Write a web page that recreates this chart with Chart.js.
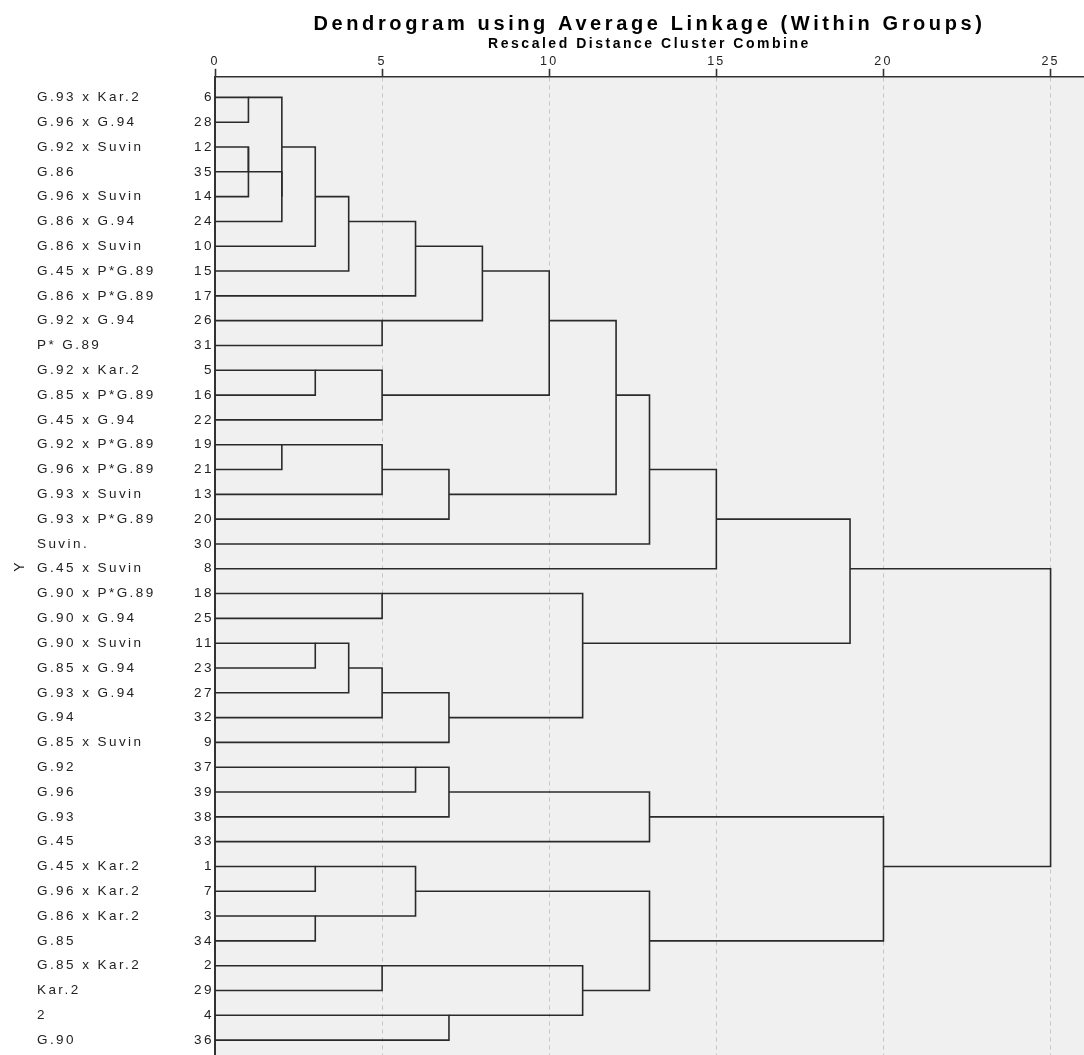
<!DOCTYPE html>
<html>
<head>
<meta charset="utf-8">
<title>Dendrogram</title>
<script src="https://cdn.jsdelivr.net/npm/chart.js@4.4.1/dist/chart.umd.min.js"></script>
<style>
  html, body { margin: 0; padding: 0; background: #fff; }
  #wrap { width: 1084px; height: 1055px; }
</style>
</head>
<body>
<div id="wrap"><canvas id="myChart"></canvas></div>
<script>
const caseIds = [6, 28, 12, 35, 14, 24, 10, 15, 17, 26, 31, 5, 16, 22, 19, 21, 13, 20, 30, 8,
    18, 25, 11, 23, 27, 32, 9, 37, 39, 38, 33, 1, 7, 3, 34, 2, 29, 4, 36];
const caseNames = ['G.93 x Kar.2', 'G.96 x G.94', 'G.92 x Suvin', 'G.86', 'G.96 x Suvin', 'G.86 x G.94',
    'G.86 x Suvin', 'G.45 x P*G.89', 'G.86 x P*G.89', 'G.92 x G.94', 'P* G.89', 'G.92 x Kar.2',
    'G.85 x P*G.89', 'G.45 x G.94', 'G.92 x P*G.89', 'G.96 x P*G.89', 'G.93 x Suvin', 'G.93 x P*G.89',
    'Suvin.', 'G.45 x Suvin', 'G.90 x P*G.89', 'G.90 x G.94', 'G.90 x Suvin', 'G.85 x G.94',
    'G.93 x G.94', 'G.94', 'G.85 x Suvin', 'G.92', 'G.96', 'G.93', 'G.45', 'G.45 x Kar.2',
    'G.96 x Kar.2', 'G.86 x Kar.2', 'G.85', 'G.85 x Kar.2', 'Kar.2', '2', 'G.90'];
// merge k joins mergeLeft[k] and mergeRight[k] (a case id, or 'mN' = earlier merge N) at mergeDistance[k]
const mergeLeft = [6, 12, 'm1', 'm2', 'm0', 'm4', 'm5', 'm6', 26, 'm7', 5, 'm10', 'm9', 19, 'm13', 'm14',
    'm12', 'm16', 'm17', 18, 11, 'm20', 'm21', 'm22', 'm19', 'm18', 37, 'm26', 'm27', 1, 3, 'm29', 2, 4,
    'm32', 'm31', 'm28', 'm25'];
const mergeRight = [28, 35, 14, 24, 'm3', 10, 15, 17, 31, 'm8', 16, 22, 'm11', 21, 13, 20, 'm15', 30, 8,
    25, 23, 27, 32, 9, 'm23', 'm24', 39, 38, 33, 7, 34, 'm30', 29, 36, 'm33', 'm34', 'm35', 'm36'];
const mergeDistance = [1, 1, 1, 2, 2, 3, 4, 6, 5, 8, 3, 5, 10, 2, 5, 7, 12, 13, 15, 5, 3, 4, 5, 7, 11, 19,
    6, 7, 13, 3, 3, 6, 5, 7, 11, 13, 20, 25];
const distanceTicks = [0, 5, 10, 15, 20, 25];

// the reference text is drawn wide, so space the letters in proportion to the font size
['fillText', 'measureText'].forEach((fn) => {
    const orig = CanvasRenderingContext2D.prototype[fn];
    CanvasRenderingContext2D.prototype[fn] = function (...args) {
        const m = /([\d.]+)px/.exec(this.font);
        if (m && 'letterSpacing' in this) {
            this.letterSpacing = (parseFloat(m[1]) * 0.18).toFixed(2) + 'px';
        }
        return orig.apply(this, args);
    };
});

const nodeRow = {};
const nodeDist = {};
caseIds.forEach((id, i) => { nodeRow[id] = i; nodeDist[id] = 0; });
const brackets = mergeDistance.map((d, k) => {
    const a = mergeLeft[k];
    const b = mergeRight[k];
    nodeRow['m' + k] = Math.floor((nodeRow[a] + nodeRow[b]) / 2);
    nodeDist['m' + k] = d;
    return [
        {x: nodeDist[a], y: nodeRow[a]},
        {x: d, y: nodeRow[a]},
        {x: d, y: nodeRow[b]},
        {x: nodeDist[b], y: nodeRow[b]}
    ];
});

const rowTicks = (scale) => { scale.ticks = caseIds.map((_, i) => ({value: i})); };
const rowFit = (width) => (scale) => {
    scale.width = width;
    scale.paddingTop = 0;
    scale.paddingBottom = 0;
};

const plotBackground = {
    id: 'plotBackground',
    beforeDraw(chart) {
        const {ctx, chartArea} = chart;
        ctx.save();
        ctx.fillStyle = '#ffffff';
        ctx.fillRect(0, 0, chart.width, chart.height);
        ctx.fillStyle = '#f0f0f0';
        ctx.fillRect(chartArea.left, chartArea.top, chartArea.right - chartArea.left, chartArea.bottom - chartArea.top);
        ctx.restore();
    }
};

Chart.defaults.font.family = '"Liberation Sans", Arial, sans-serif';
Chart.defaults.color = '#222';

const myChart = new Chart(document.getElementById('myChart'), {
    type: 'line',
    data: {
        datasets: brackets.map((pts) => ({
            data: pts,
            borderColor: '#2a2a2a',
            borderWidth: 1.6,
            pointRadius: 0,
            pointHitRadius: 0,
            fill: false,
            tension: 0,
            xAxisID: 'x',
            yAxisID: 'y'
        }))
    },
    options: {
        responsive: true,
        maintainAspectRatio: false,
        animation: false,
        events: [],
        layout: { padding: 0 },
        plugins: {
            legend: { display: false },
            tooltip: { enabled: false },
            title: {
                display: true,
                text: 'Dendrogram using Average Linkage (Within Groups)',
                fullSize: false,
                color: '#000',
                font: { size: 20, weight: 'bold' },
                padding: { top: 12, bottom: 0 }
            }
        },
        scales: {
            x: {
                type: 'linear',
                position: 'top',
                min: 0,
                max: 26,
                afterBuildTicks: (scale) => { scale.ticks = distanceTicks.map((v) => ({value: v})); },
                afterFit: (scale) => { scale.paddingLeft = 0; scale.paddingRight = 0; },
                ticks: { color: '#222', font: { size: 12.5 }, padding: 0, maxRotation: 0 },
                grid: {
                    color: (c) => (c.tick && c.tick.value === 0 ? 'rgba(0,0,0,0)' : '#c4c4c4'),
                    lineWidth: 1,
                    tickColor: '#333',
                    tickWidth: 1.6,
                    tickLength: 8
                },
                border: { display: true, color: '#333', width: 1.5, dash: [4, 4] },
                title: {
                    display: true,
                    text: 'Rescaled Distance Cluster Combine',
                    color: '#000',
                    font: { size: 14, weight: 'bold' },
                    padding: { top: 0, bottom: 1 }
                }
            },
            y: {
                type: 'linear',
                position: 'left',
                weight: 0,
                reverse: true,
                min: -0.83,
                max: 38.6,
                afterBuildTicks: rowTicks,
                afterFit: rowFit(30),
                ticks: {
                    autoSkip: false,
                    padding: 1,
                    crossAlign: 'near',
                    font: { size: 13.5 },
                    callback: (v) => caseIds[v]
                },
                grid: { display: false, drawTicks: false },
                border: { display: true, color: '#333', width: 2 }
            },
            yNames: {
                type: 'linear',
                position: 'left',
                weight: 1,
                reverse: true,
                min: -0.83,
                max: 38.6,
                afterBuildTicks: rowTicks,
                afterFit: rowFit(148),
                ticks: {
                    autoSkip: false,
                    crossAlign: 'far',
                    font: { size: 13.5 },
                    callback: (v) => caseNames[v]
                },
                grid: { display: false, drawTicks: false },
                border: { display: false }
            },
            yTitle: {
                type: 'linear',
                position: 'left',
                weight: 2,
                reverse: true,
                min: -0.83,
                max: 38.6,
                afterFit: rowFit(37),
                ticks: { display: false },
                grid: { display: false, drawTicks: false },
                border: { display: false },
                title: {
                    display: true,
                    text: 'Y',
                    color: '#222',
                    font: { size: 14 },
                    padding: { top: 12, bottom: 0 }
                }
            }
        }
    },
    plugins: [plotBackground]
});
</script>
</body>
</html>
